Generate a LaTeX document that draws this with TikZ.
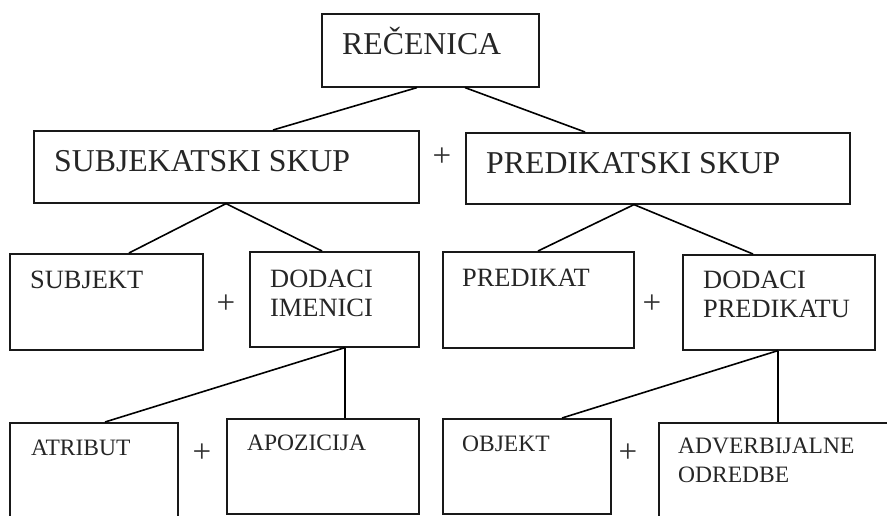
\documentclass[tikz,border=0pt]{standalone}
\usepackage{fontspec}
\setmainfont{Liberation Serif}
\usetikzlibrary{calc}
\begin{document}
\begin{tikzpicture}[x=1pt,y=-1pt,
  box/.style={draw=black!90, line width=1.6pt, fill=white, inner sep=0pt, anchor=north west},
  link/.style={draw=black, line width=1.6pt},
  bigtxt/.style={anchor=base west, inner sep=0pt, text=black!85, font=\fontsize{31.8}{36}\selectfont},
  midtxt/.style={anchor=base west, inner sep=0pt, text=black!85, font=\fontsize{26.4}{30}\selectfont},
  smalltxt/.style={anchor=base west, inner sep=0pt, text=black!85, font=\fontsize{23.5}{28}\selectfont},
  plus/.style={inner sep=0pt, text=black!80, font=\fontsize{33}{36}\selectfont}]
  \useasboundingbox (0,0) rectangle (887,515);
  \clip (0,0) rectangle (887,515);

  % boxes: position = top-left corner, size = width x height
  \node[box, minimum width=217, minimum height=73] (rec)  at (321,13)  {};
  \node[box, minimum width=385, minimum height=72] (ss)   at (33,130)  {};
  \node[box, minimum width=384, minimum height=71] (ps)   at (465,132) {};
  \node[box, minimum width=193, minimum height=96] (subj) at (9,253)   {};
  \node[box, minimum width=169, minimum height=95] (di)   at (249,251) {};
  \node[box, minimum width=191, minimum height=96] (pred) at (442,251) {};
  \node[box, minimum width=192, minimum height=95] (dp)   at (682,254) {};
  \node[box, minimum width=168, minimum height=120] (atr) at (9,422)   {};
  \node[box, minimum width=192, minimum height=95] (apo)  at (226,418) {};
  \node[box, minimum width=168, minimum height=95] (obj)  at (442,418) {};
  \node[box, minimum width=245, minimum height=120] (adv) at (658,422) {};

  % labels
  \node[bigtxt] (rec-t) at (342,54)  {REČENICA};
  \node[bigtxt] (ss-t)  at (54,171)  {SUBJEKATSKI SKUP};
  \node[bigtxt] (ps-t)  at (486,173) {PREDIKATSKI SKUP};
  \node[midtxt] (subj-t) at (30,288)  {SUBJEKT};
  \node[midtxt] (di-t1)  at (270,287) {DODACI};
  \node[midtxt] (di-t2)  at (270,316) {IMENICI};
  \node[midtxt] (pred-t) at (462,286) {PREDIKAT};
  \node[midtxt] (dp-t1)  at (703,288) {DODACI};
  \node[midtxt] (dp-t2)  at (703,317) {PREDIKATU};
  \node[smalltxt] (atr-t)  at (31,455)  {ATRIBUT};
  \node[smalltxt] (apo-t)  at (247,450) {APOZICIJA};
  \node[smalltxt] (obj-t)  at (462,451) {OBJEKT};
  \node[smalltxt] (adv-t1) at (678,453) {ADVERBIJALNE};
  \node[smalltxt] (adv-t2) at (678,482) {ODREDBE};

  % plus signs between sibling boxes
  \node[plus] (p1) at (442,157) {+};
  \node[plus] (p2) at (226,304) {+};
  \node[plus] (p3) at (652,304) {+};
  \node[plus] (p4) at (202,453) {+};
  \node[plus] (p5) at (628,453) {+};

  % attachment points on the box edges
  \coordinate (rec-l) at ($(rec.south west)+(96,0)$);
  \coordinate (rec-r) at ($(rec.south west)+(144,0)$);
  \coordinate (ss-b)  at ($(ss.south west)+(193,0)$);
  \coordinate (ps-b)  at ($(ps.south west)+(169,0)$);
  \coordinate (di-b)  at ($(di.south west)+(96,0)$);
  \coordinate (dp-b)  at ($(dp.south west)+(96,0)$);

  % tree connectors
  \draw[link] (rec-l) -- ($(ss.north west)+(240,0)$);
  \draw[link] (rec-r) -- ($(ps.north west)+(120,0)$);
  \draw[link] (ss-b) -- ($(subj.north west)+(120,0)$);
  \draw[link] (ss-b) -- ($(di.north west)+(73,0)$);
  \draw[link] (ps-b) -- ($(pred.north west)+(96,0)$);
  \draw[link] (ps-b) -- ($(dp.north west)+(71,0)$);
  \draw[link] (di-b) -- ($(atr.north west)+(96,0)$);
  \draw[link] (di-b) -- (di-b |- apo.north);
  \draw[link] (dp-b) -- ($(obj.north west)+(120,0)$);
  \draw[link] (dp-b) -- (dp-b |- adv.north);
\end{tikzpicture}
\end{document}
